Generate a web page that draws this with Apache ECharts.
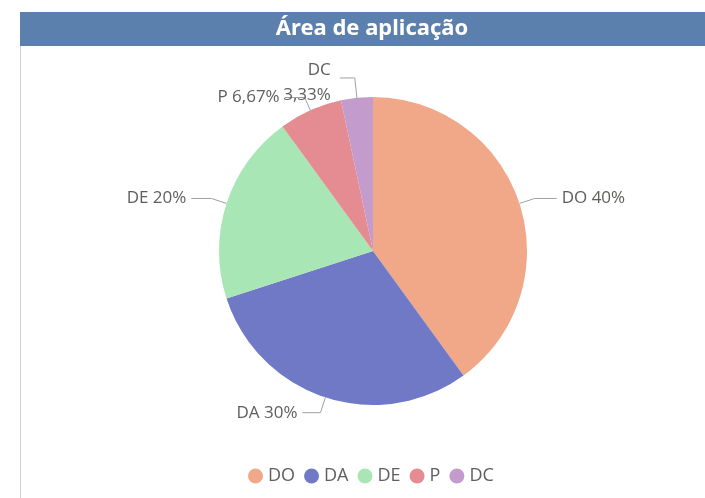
<!DOCTYPE html>
<html>
<head>
<meta charset="utf-8">
<script src="https://cdn.jsdelivr.net/npm/echarts@6/dist/echarts.min.js"></script>
<style>
  html, body { margin: 0; padding: 0; background: #fff; }
  #chart { width: 705px; height: 498px; }
</style>
</head>
<body>
<div id="chart"></div>
<script>
const categories = ["DO", "DA", "DE", "P", "DC"];
const counts = [12, 9, 6, 2, 1];
const colors = ["#f0a888", "#6f79c6", "#a8e6b5", "#e48c92", "#c39bcc"];
const percentLabels = ["40%", "30%", "20%", "6,67%", "3,33%"];

// label leader lengths per slice: [first segment, second segment]
const leaderLengths = [[16, 22], [16, 18], [16, 20], [14, 20], [20, 15]];

const chart = echarts.init(document.getElementById("chart"));

const textColor = "#605e5c";

chart.setOption({
  animation: false,
  color: colors,
  graphic: [
    { type: "rect", shape: { x: 20, y: 12, width: 700, height: 34 }, style: { fill: "#5b80ad" } },
    { type: "line", shape: { x1: 20.5, y1: 46, x2: 20.5, y2: 498 }, style: { stroke: "#d0d0d0", lineWidth: 1 } },
    {
      type: "text", x: 372, y: 29,
      style: {
        text: "Área de aplicação", fill: "#ffffff", font: "bold 22px 'Noto Sans'",
        textAlign: "center", textVerticalAlign: "middle"
      }
    }
  ],
  legend: {
    bottom: 13,
    left: 248,
    padding: 0,
    icon: "circle",
    itemWidth: 15,
    itemHeight: 15,
    itemGap: 9,
    textStyle: { color: textColor, fontSize: 18, fontFamily: "Open Sans" },
    data: categories
  },
  series: [{
    type: "pie",
    center: [373, 251],
    radius: 154,
    startAngle: 90,
    clockwise: true,
    avoidLabelOverlap: false,
    label: {
      color: textColor,
      fontSize: 17,
      fontFamily: "Open Sans",
      distanceToLabelLine: 5,
      lineHeight: 25,
      formatter: (p) => p.dataIndex === 4
        ? categories[4] + "\n" + percentLabels[4]
        : categories[p.dataIndex] + " " + percentLabels[p.dataIndex]
    },
    labelLine: { lineStyle: { color: "#a0a0a0", width: 1 } },
    labelLayout: (p) => (p.dataIndex === 4 ? { dx: -4, dy: 5 } : {}),
    data: categories.map((c, i) => ({
      name: c,
      value: counts[i],
      labelLine: { length: leaderLengths[i][0], length2: leaderLengths[i][1] }
    }))
  }]
});
</script>
</body>
</html>
